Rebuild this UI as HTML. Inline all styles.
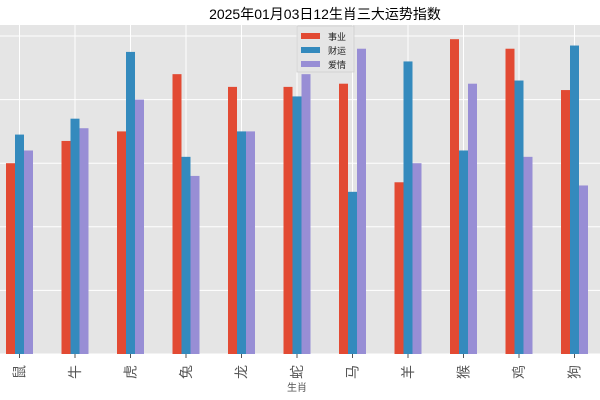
<!DOCTYPE html>
<html><head><meta charset="utf-8"><style>
body{margin:0;background:#fff;}
svg{display:block;font-family:"Liberation Sans","Noto Sans CJK SC",sans-serif;}
</style></head><body>
<svg id="chart" width="600" height="400">
<text x="325" y="19" font-size="14" text-anchor="middle" fill="#000">2025年01月03日12生肖三大运势指数</text>
<rect x="-8" y="25" width="610" height="329" fill="#e5e5e5"/>
<g id="grid"></g>
<g id="bars"></g>
<g id="xticks"></g>
<text x="297" y="391" font-size="10" text-anchor="middle" fill="#555">生肖</text>
<g>
<rect x="297" y="26" width="57" height="46" fill="#e5e5e5" stroke="#ccc" stroke-width="0.8" opacity="0.9"/>
<rect x="301" y="33" width="19" height="6" fill="#E24A33"/>
<text x="328" y="40" font-size="9" fill="#222">事业</text>
<rect x="301" y="47" width="19" height="6" fill="#348ABD"/>
<text x="328" y="54" font-size="9" fill="#222">财运</text>
<rect x="301" y="61" width="19" height="6" fill="#988ED5"/>
<text x="328" y="68" font-size="9" fill="#222">爱情</text>
</g>
</svg>
<script>
const categories=["鼠","牛","虎","兔","龙","蛇","马","羊","猴","鸡","狗"];
const career=[60,67,70,88,84,84,85,54,99,96,83];
const wealth=[69,74,95,62,70,81,51,92,64,86,97];
const love=[64,71,80,56,70,88,96,60,85,62,53];
const yTicks=[0,20,40,60,80,100];
const NS="http://www.w3.org/2000/svg";
const x0=19.5, step=55.5, bw=9, yBase=354, yScale=63.6/20;
const xPos=i=>x0+i*step;
const yPos=v=>yBase-v*yScale;
const grid=document.getElementById('grid'),bars=document.getElementById('bars'),xt=document.getElementById('xticks');
function mk(tag,attrs,parent){const e=document.createElementNS(NS,tag);for(const k in attrs)e.setAttribute(k,attrs[k]);parent.appendChild(e);return e;}
yTicks.forEach(t=>{
 const l=mk('line',{x1:-8,x2:602,y1:yPos(t),y2:yPos(t),stroke:'#fff','stroke-width':1},grid);
 
 
});
const series=[[career,'#E24A33','career'],[wealth,'#348ABD','wealth'],[love,'#988ED5','love']];
categories.forEach((c,i)=>{
 const cx=xPos(i);
 const g=mk('line',{x1:cx,x2:cx,y1:25,y2:yBase,stroke:'#fff','stroke-width':1},grid);
 
 
 series.forEach((s,j)=>{
  const v=s[0][i];
  const r=mk('rect',{x:cx-1.5*bw+j*bw,y:yPos(v),width:bw,height:yBase-yPos(v),fill:s[1]},bars);
  
  
 });
 const tk=mk('line',{x1:cx,x2:cx,y1:yBase,y2:yBase+4,stroke:'#555','stroke-width':1},xt);
 
 
 const t=mk('text',{x:0,y:0,'font-size':14,fill:'#555','text-anchor':'middle',transform:`translate(${cx+5},372) rotate(-90)`},xt);
 t.textContent=c;
 
 
});
</script>
</body></html>
